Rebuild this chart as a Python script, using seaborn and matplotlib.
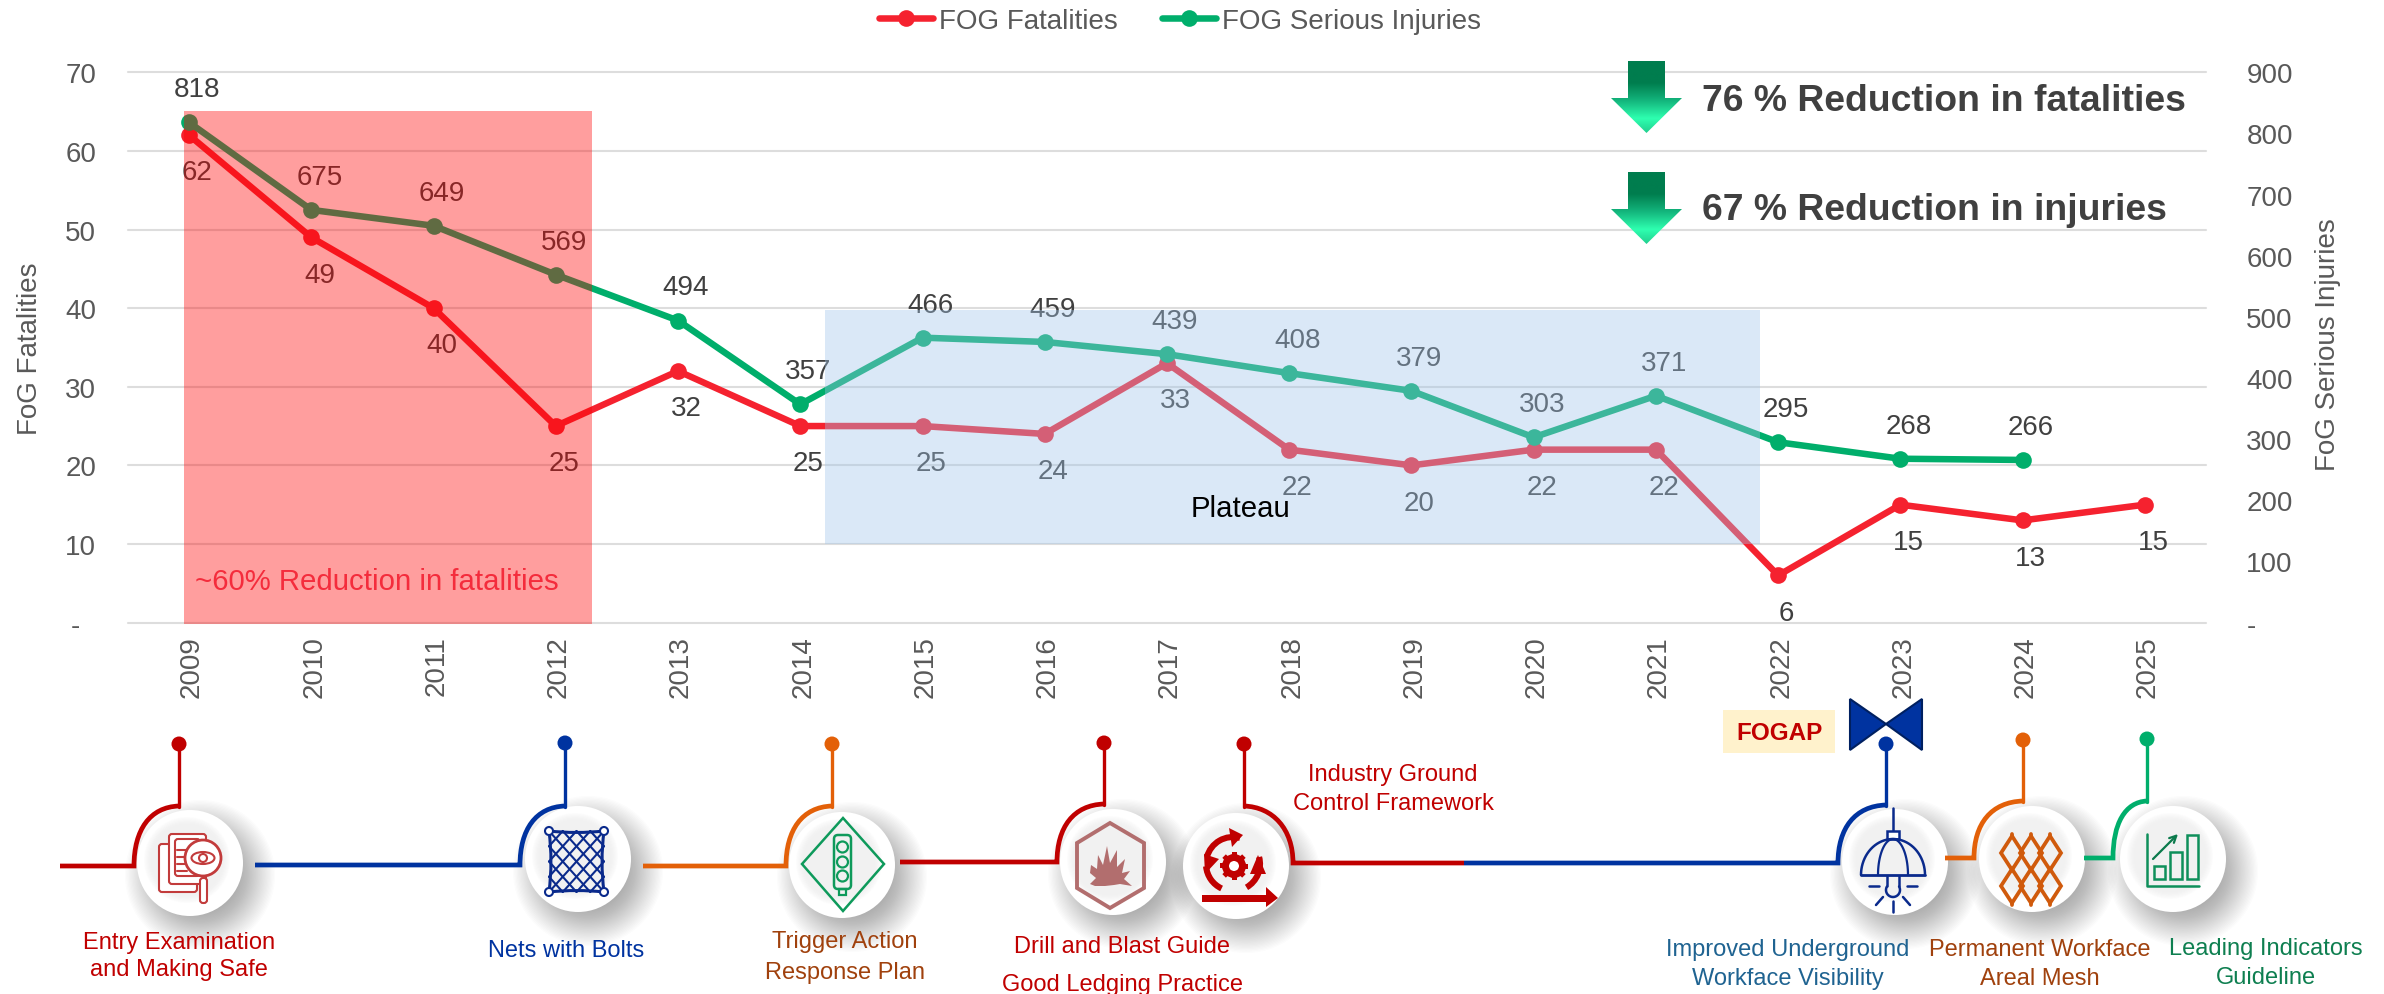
import numpy as np
import pandas as pd
import matplotlib
matplotlib.use("Agg")
import matplotlib.pyplot as plt
import matplotlib.transforms as mtrans
import seaborn as sns
from matplotlib.lines import Line2D
from matplotlib.patches import Circle, Ellipse, Polygon, Rectangle, FancyBboxPatch, PathPatch, Arc
from matplotlib.path import Path
from matplotlib.colors import LinearSegmentedColormap

years = list(range(2009, 2026))
fatalities = [62, 49, 40, 25, 32, 25, 25, 24, 33, 22, 20, 22, 22, 6, 15, 13, 15]
injuries = [818, 675, 649, 569, 494, 357, 466, 459, 439, 408, 379, 303, 371, 295, 268, 266, np.nan]
left_ticks = [0, 10, 20, 30, 40, 50, 60, 70]
left_labels = ["-  ", "10", "20", "30", "40", "50", "60", "70"]
right_ticks = [0, 100, 200, 300, 400, 500, 600, 700, 800, 900]
right_labels = ["-", "100", "200", "300", "400", "500", "600", "700", "800", "900"]

RED = "#F5222F"
GREEN = "#00AE6B"
GREY = "#595959"
DARK = "#404040"
CRIMSON = "#C00000"
NAVY = "#0033A0"
ORANGE = "#E36008"
W, H = 2384, 995
FS = 20
LW, MS = 4.7, 12

sns.set_theme(style="white")
plt.rcParams["font.family"] = ["Liberation Sans", "DejaVu Sans"]

df = pd.DataFrame({"Year": years, "Fatalities": fatalities, "Injuries": injuries})

fig = plt.figure(figsize=(W / 100, H / 100), dpi=100, facecolor="white")
L, R, T, B = 128, 2206, 73.3, 623.6
ax = fig.add_axes([L / W, 1 - B / H, (R - L) / W, (B - T) / H])
ax2 = ax.twinx()

line_kw = dict(linewidth=LW, marker="o", markersize=MS, markeredgewidth=0, errorbar=None, legend=False)
sns.lineplot(data=df, x="Year", y="Fatalities", ax=ax, color=RED, zorder=4, **line_kw)
sns.lineplot(data=df, x="Year", y="Injuries", ax=ax2, color=GREEN, zorder=4, **line_kw)

ax.set_xlim(years[0] - 0.5, years[-1] + 0.5)
ax.set_ylim(0, 70)
ax2.set_ylim(0, 900)
ax.set_xticks(years)
ax.set_xticklabels([str(y) for y in years], rotation=90, fontsize=FS, color=GREY,
                   ha="right", va="center_baseline", rotation_mode="anchor")
ax.set_yticks(left_ticks)
ax.set_yticklabels(left_labels, fontsize=FS, color=GREY)
ax2.set_yticks(right_ticks)
ax2.set_yticklabels(right_labels, fontsize=FS, color=GREY)
ax.tick_params(axis="x", length=0, pad=9)
ax.tick_params(axis="y", length=0, pad=23)
ax2.tick_params(axis="y", length=0, pad=29)
ax.grid(axis="y", color="#DDDDDD", linewidth=1.5)
ax.grid(axis="x", visible=False)
ax2.grid(False)
for a in (ax, ax2):
    a.patch.set_visible(False)
    for s in a.spines.values():
        s.set_visible(False)
for gl in ax.get_ygridlines():
    gl.set_clip_on(False)
ax.set_xlabel("")
ax.set_ylabel("FoG Fatalities", fontsize=FS, color=GREY)
ax2.set_ylabel("FoG Serious Injuries", fontsize=FS, color=GREY)
ax.yaxis.set_label_coords((43 - L) / (R - L), (B - 349) / (B - T))
ax2.yaxis.set_label_coords((2315 - L) / (R - L), (B - 345) / (B - T))

for y, v in zip(years, fatalities):
    ax.annotate(str(v), (y, v), xytext=(5.8, -26.8), textcoords="offset points",
                ha="center", va="center", fontsize=FS, color=DARK)
for y, v in zip(years, injuries):
    if not np.isnan(v):
        ax2.annotate(str(int(v)), (y, v), xytext=(5.8, 23.8), textcoords="offset points",
                     ha="center", va="center", fontsize=FS, color=DARK)

fig.legend(handles=[
    Line2D([], [], color=RED, lw=LW, marker="o", ms=MS, mew=0, solid_capstyle="round"),
    Line2D([], [], color=GREEN, lw=LW, marker="o", ms=MS, mew=0, solid_capstyle="round")],
    labels=["FOG Fatalities", "FOG Serious Injuries"], ncol=2, frameon=False, fontsize=FS,
    labelcolor=GREY, loc="center", bbox_to_anchor=(1180 / W, 1 - 22 / H),
    handlelength=1.95, handletextpad=0.2, columnspacing=1.6, borderpad=0, borderaxespad=0)

# overlay in pixel coordinates
ov = fig.add_axes([0, 0, 1, 1], zorder=10)
ov.set_xlim(0, W)
ov.set_ylim(H, 0)
ov.axis("off")
ov.patch.set_visible(False)

ov.add_patch(Rectangle((184, 112), 408, 513, fc="#FF0000", ec="none", alpha=0.38, zorder=1))
ov.add_patch(Rectangle((825, 311), 935, 234, fc="#A0C5EA", ec="none", alpha=0.38, zorder=1))
ov.text(195, 582, "~60% Reduction in fatalities", fontsize=21.2, color="#F42C3C", va="center", zorder=2)
ov.text(1191, 509, "Plateau", fontsize=21.2, color="black", va="center", zorder=2)

# gradient arrows
cmap = LinearSegmentedColormap.from_list("arrow", [(0, "#007D4E"), (0.3, "#007D4E"), (0.55, "#13B57C"),
                                                    (0.8, "#2EFFB0"), (1, "#22D08F")])
grad = np.linspace(0, 1, 128).reshape(-1, 1)
for top in (62, 173):
    pts = [(1628, top), (1665, top), (1665, top + 37), (1682, top + 37), (1646.5, top + 72),
           (1611, top + 37), (1628, top + 37)]
    poly = Polygon(pts, closed=True, transform=ov.transData, fc="none", ec="none")
    ov.add_patch(poly)
    im = ov.imshow(grad, cmap=cmap, extent=(1611, 1682, top + 72, top), aspect="auto", zorder=3)
    im.set_clip_path(poly)
ov.set_xlim(0, W)
ov.set_ylim(H, 0)
ov.text(1702, 101.5, "76 % Reduction in fatalities", fontsize=26.9, fontweight="bold", color=DARK, va="center", zorder=3)
ov.text(1702, 211, "67 % Reduction in injuries", fontsize=26.9, fontweight="bold", color=DARK, va="center", zorder=3)


def disc(cx, cy, r=53):
    for k in range(30):
        ov.add_patch(Circle((cx + 10, cy + 12), r + 22 - k * 1.3, fc="#404040", ec="none", alpha=0.014, zorder=2))
    ov.add_patch(Circle((cx, cy), r, fc="white", ec="none", zorder=3))
    for k in range(8):
        ov.add_patch(Circle((cx - 3, cy - 3), 43 - k, fc="#EDEDED", ec="none", alpha=0.12, zorder=3.1))


def arm(x0, x1, y0, xs, ys, pin_y, color, lw=3.4):
    """horizontal run, shoulder curve up to the stem, then the stem and its pin"""
    verts = [(x0, y0), (x1, y0), (x1, y0 - (y0 - ys) * 0.6), (x1 + (xs - x1) * 0.35, ys + 1), (xs, ys)]
    codes = [Path.MOVETO, Path.LINETO, Path.CURVE4, Path.CURVE4, Path.CURVE4]
    ov.add_patch(PathPatch(Path(verts, codes), fc="none", ec=color, lw=lw, capstyle="butt", zorder=4))
    ov.plot([xs, xs], [ys + 1, pin_y], color=color, lw=2.4, zorder=4)
    ov.add_patch(Circle((xs, pin_y), 7.5, fc=color, ec="none", zorder=6))


def lp(xs, ys, color, lw=2, z=5):
    ov.plot(xs, ys, color=color, lw=lw, zorder=z, solid_capstyle="round", solid_joinstyle="round")


# bowtie and FOGAP tag
ov.add_patch(Polygon([(1850, 700), (1886, 725), (1850, 751)], fc=NAVY, ec="#002060", lw=1.5, zorder=4))
ov.add_patch(Polygon([(1922, 700), (1886, 725), (1922, 751)], fc=NAVY, ec="#002060", lw=1.5, zorder=4))
ov.add_patch(Rectangle((1723, 711), 112, 43, fc="#FFF2CC", ec="none", zorder=4))
ov.text(1779, 733, "FOGAP", fontsize=17.5, fontweight="bold", color=CRIMSON, ha="center", va="center", zorder=5)

# timeline arms
arm(60, 134, 867, 179, 807, 745, CRIMSON)
arm(255, 520, 866, 565, 807, 744, NAVY)
arm(643, 786, 867, 832, 807, 745, ORANGE)
arm(900, 1057, 863, 1104, 805, 744, CRIMSON)
arm(1464, 1838, 864, 1886, 806, 745, NAVY)
arm(1945, 1974, 859, 2023, 802, 741, ORANGE)
arm(2084, 2113, 859, 2147, 802, 740, GREEN)
# mirrored arm of the fifth icon
ov.add_patch(PathPatch(Path([(1244, 807), (1273, 808), (1293, 830), (1293, 864), (1464, 864)],
                            [Path.MOVETO, Path.CURVE4, Path.CURVE4, Path.CURVE4, Path.LINETO]),
                       fc="none", ec=CRIMSON, lw=3.4, zorder=4))
ov.plot([1244, 1244], [808, 745], color=CRIMSON, lw=2.4, zorder=4)
ov.add_patch(Circle((1244, 745), 7.5, fc=CRIMSON, ec="none", zorder=6))

# discs
for c in [(190, 864), (578, 860), (842, 866), (1113, 863), (1236, 867), (1895, 863), (2032, 860), (2173, 860)]:
    disc(*c)

# icon 1: documents and magnifier
ic = "#C23B3B"
ov.add_patch(FancyBboxPatch((159, 845), 38, 48, boxstyle="round,pad=0,rounding_size=3", fc="white", ec=ic, lw=1.5, zorder=5))
ov.add_patch(FancyBboxPatch((169, 835), 37, 50, boxstyle="round,pad=0,rounding_size=3", fc="white", ec=ic, lw=1.5, zorder=5))
ov.add_patch(FancyBboxPatch((175, 840), 25, 37, boxstyle="round,pad=0,rounding_size=3", fc="white", ec=ic, lw=1.5, zorder=5))
for yy in (851, 858, 865, 872):
    lp([177, 187], [yy, yy], ic, 1.5)
ov.add_patch(FancyBboxPatch((200, 879), 7, 25, boxstyle="round,pad=0,rounding_size=3", fc="white", ec=ic, lw=1.5, zorder=5))
ov.add_patch(Circle((203, 859), 18, fc="white", ec=ic, lw=2, zorder=5.1))
ov.add_patch(Ellipse((203, 859), 23, 12, fc="white", ec=ic, lw=1.5, zorder=5.2))
ov.add_patch(Circle((203, 859), 4, fc="white", ec=ic, lw=1.5, zorder=5.3))

# icon 2: net
net = "#0A2A8C"
nx0, nx1, ny0, ny1 = 549, 604, 832, 893
n = 4
for i in range(-n, n + 1):
    xa = nx0 + (nx1 - nx0) * i / n
    xb = xa + (nx1 - nx0)
    t0, t1 = max(0, -i / n), min(1, 1 - i / n)
    lp([xa + (xb - xa) * t0, xa + (xb - xa) * t1], [ny0 + (ny1 - ny0) * t0, ny0 + (ny1 - ny0) * t1], net, 1.5)
    lp([xa + (xb - xa) * t0, xa + (xb - xa) * t1], [ny1 - (ny1 - ny0) * t0, ny1 - (ny1 - ny0) * t1], net, 1.5)
for a_, b_ in [((nx0, ny0), (nx1, ny0)), ((nx0, ny1), (nx1, ny1)), ((nx0, ny0), (nx0, ny1)), ((nx1, ny0), (nx1, ny1))]:
    mid = ((a_[0] + b_[0]) / 2 + (4 if a_[0] == nx0 and b_[0] == nx0 else -4 if a_[0] == nx1 and b_[0] == nx1 else 0),
           (a_[1] + b_[1]) / 2 + (3 if a_[1] == ny0 and b_[1] == ny0 else -3 if a_[1] == ny1 and b_[1] == ny1 else 0))
    ov.add_patch(PathPatch(Path([a_, mid, b_], [Path.MOVETO, Path.CURVE3, Path.CURVE3]), fc="none", ec=net, lw=2.2, zorder=5))
for cx, cy in [(nx0, ny0), (nx1, ny0), (nx0, ny1), (nx1, ny1)]:
    ov.add_patch(Circle((cx, cy), 4, fc="white", ec=net, lw=1.5, zorder=5.5))

# icon 3: traffic light sign
g3 = "#0E9A5B"
ov.add_patch(Polygon([(843, 819), (884, 865), (843, 912), (802, 865)], fc="none", ec=g3, lw=1.8, zorder=5))
ov.add_patch(FancyBboxPatch((834, 836), 17, 54, boxstyle="round,pad=0,rounding_size=4", fc="none", ec=g3, lw=1.8, zorder=5))
for yy in (848, 863, 877):
    ov.add_patch(Circle((842.5, yy), 5.5, fc="none", ec=g3, lw=1.6, zorder=5))
ov.add_patch(Rectangle((839, 890), 7, 6, fc="none", ec=g3, lw=1.6, zorder=5))

# icon 4: blast in hexagon
b4 = "#B26E6E"
ov.add_patch(Polygon([(1110, 824), (1144, 844), (1144, 889), (1110, 909), (1077, 889), (1077, 844)],
                     fc="none", ec=b4, lw=2.8, zorder=5))
ov.add_patch(Polygon([(1091, 866), (1097, 870), (1098, 856), (1103, 866), (1107, 847), (1110, 864), (1117, 851),
                      (1117, 868), (1125, 860), (1122, 874), (1130, 872), (1124, 880), (1132, 887), (1120, 885),
                      (1114, 886), (1105, 887), (1095, 887), (1090, 885), (1096, 879), (1090, 874)],
                     fc=b4, ec="none", zorder=5))

# icon 5: gear with cycle arrows
for ang in np.arange(0, 360, 45):
    ov.add_patch(Rectangle((1234 - 2.5, 867 - 14), 5, 6, fc=CRIMSON, ec="none", zorder=5,
                           transform=mtrans.Affine2D().rotate_deg_around(1234, 867, ang) + ov.transData))
ov.add_patch(Circle((1234, 867), 8.5, fc="white", ec=CRIMSON, lw=5, zorder=5))
for t1, t2 in [(-15, 60), (115, 175), (195, 285)]:
    ov.add_patch(Arc((1233, 865), 54, 54, theta1=t1, theta2=t2, ec=CRIMSON, lw=4.4, zorder=5))
for tri in ([(1258, 856), (1266, 875), (1250, 875)], [(1229, 829), (1243, 836), (1232, 848)],
            [(1205, 875), (1219, 860), (1204, 855)]):
    ov.add_patch(Polygon(tri, fc=CRIMSON, ec="none", zorder=5))
ov.add_patch(Rectangle((1202, 896), 66, 6.5, fc=CRIMSON, ec="none", zorder=5))
ov.add_patch(Polygon([(1266, 888), (1278, 899), (1266, 908)], fc=CRIMSON, ec="none", zorder=5))

# icon 6: lamp
lamp = "#0A2A8C"
lp([1893, 1893], [809, 832], lamp, 1.8)
ov.add_patch(Rectangle((1887, 832), 12, 8, fc="white", ec=lamp, lw=1.8, zorder=5))
th = np.radians(np.linspace(180, 360, 40))
lp(1893 + 32 * np.cos(th), 876 + 36 * np.sin(th), lamp, 1.8)
lp(1893 + 15 * np.cos(th), 876 + 36 * np.sin(th), lamp, 1.6)
lp([1861, 1925], [876, 876], lamp, 2)
th = np.radians(np.linspace(-30, 210, 30))
lp(1893 + 7 * np.cos(th), 891 + 7 * np.sin(th), lamp, 1.8)
lp([1887, 1887], [877, 887], lamp, 1.8)
lp([1899, 1899], [877, 887], lamp, 1.8)
for seg in ([1869, 1879, 887, 887], [1907, 1917, 887, 887], [1876, 1883, 906, 898], [1910, 1903, 906, 898],
            [1893, 1893, 902, 913]):
    lp(seg[:2], seg[2:], lamp, 1.8)

# icon 7: mesh
mesh = "#D05A0C"
for cx in (2012, 2031, 2050):
    for cy in (854, 887):
        ov.add_patch(Polygon([(cx, cy - 17), (cx + 11, cy), (cx, cy + 17), (cx - 11, cy)], fc="none", ec=mesh, lw=2.7, zorder=5))
    lp([cx, cx], [835, 838], mesh, 2.7)
    lp([cx, cx], [904, 906], mesh, 2.7)

# icon 8: chart
g8 = "#0E8F5A"
lp([2147, 2147, 2199], [835, 887, 887], g8, 1.8)
for x0, y0, x1 in [(2154, 867, 2165), (2170, 853, 2182), (2187, 836, 2198)]:
    ov.add_patch(Rectangle((x0, y0), x1 - x0, 880 - y0, fc="none", ec=g8, lw=1.8, zorder=5))
ov.annotate("", xy=(2178, 835), xytext=(2153, 860), zorder=5,
            arrowprops=dict(arrowstyle="->", color="#0B7A4C", lw=1.6, mutation_scale=12, shrinkA=0, shrinkB=0))

# timeline captions
TS = 17
captions = [
    (179, 943, "Entry Examination", CRIMSON), (179, 970, "and Making Safe", CRIMSON),
    (566, 951, "Nets with Bolts", NAVY),
    (845, 942, "Trigger Action", "#A0410D"), (845, 973, "Response Plan", "#A0410D"),
    (1122, 947, "Drill and Blast Guide", CRIMSON), (1123, 985, "Good Ledging Practice", CRIMSON),
    (1393, 775, "Industry Ground", CRIMSON), (1393, 804, "Control Framework", CRIMSON),
    (1788, 950, "Improved Underground", "#1F6391"), (1788, 979, "Workface Visibility", "#1F6391"),
    (2040, 950, "Permanent Workface", "#A0410D"), (2040, 979, "Areal Mesh", "#A0410D"),
    (2266, 949, "Leading Indicators", "#0E7F50"), (2266, 978, "Guideline", "#0E7F50"),
]
for x, y, s, c in captions:
    ov.text(x, y, s, fontsize=TS, color=c, ha="center", va="center", zorder=7)

fig.savefig("out.png", dpi=100, facecolor="white")
